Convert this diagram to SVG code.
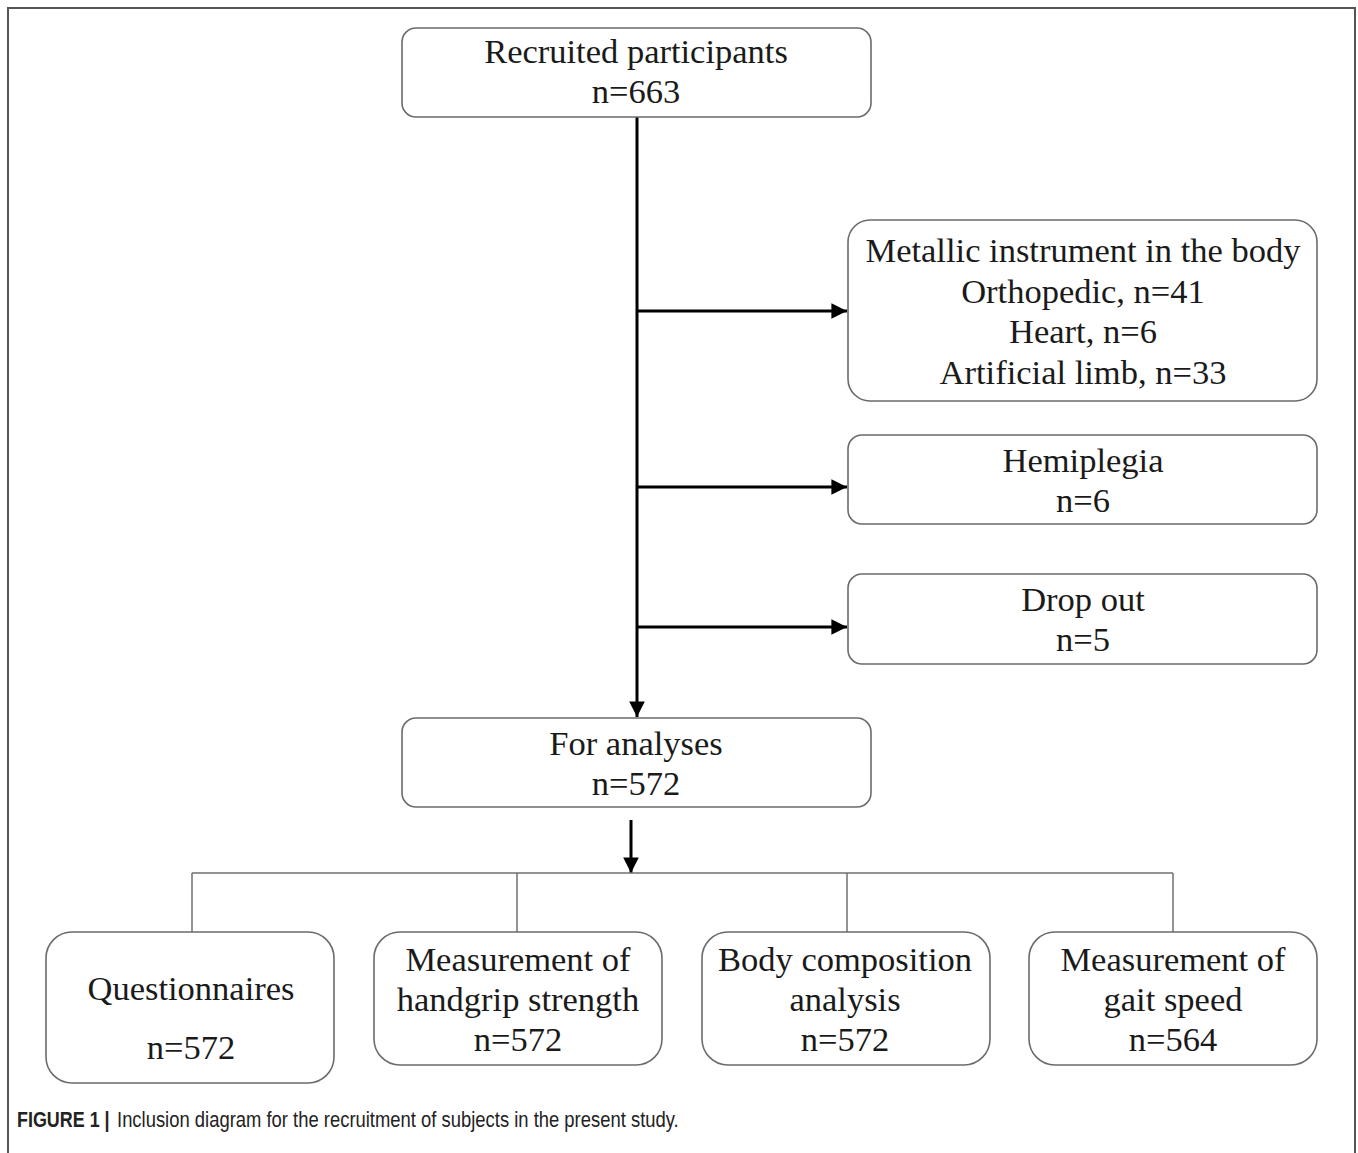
<svg xmlns="http://www.w3.org/2000/svg" width="1358" height="1153" viewBox="0 0 1358 1153">
<style>
.box{fill:#fff;stroke:#6b6b6b;stroke-width:1.6}
.t{font-family:"Liberation Serif","Times New Roman",serif;font-size:34.5px;fill:#1a1a1a;text-anchor:middle}
.thick{stroke:#000;stroke-width:3;fill:none}
.thin{stroke:#707070;stroke-width:1.5;fill:none}
.cap{font-family:"Liberation Sans",Arial,sans-serif;font-size:22px;fill:#222}
</style>
<defs>
<marker id="ah" viewBox="0 0 10 10" refX="10" refY="5" markerWidth="5.5" markerHeight="5.2" markerUnits="strokeWidth" orient="auto">
<path d="M0,0 L10,5 L0,10 z" fill="#000"/>
</marker>
</defs>
<rect width="1358" height="1153" fill="#fff"/>
<path d="M8,1153 L8,8 L1355,8 L1355,1153" fill="none" stroke="#555" stroke-width="2"/>
<g id="connectors">
<line class="thick" x1="637" y1="117" x2="637" y2="717" marker-end="url(#ah)"/>
<line class="thick" x1="637" y1="311" x2="847" y2="311" marker-end="url(#ah)"/>
<line class="thick" x1="637" y1="487" x2="847" y2="487" marker-end="url(#ah)"/>
<line class="thick" x1="637" y1="627" x2="847" y2="627" marker-end="url(#ah)"/>
<line class="thick" x1="631" y1="820" x2="631" y2="873" marker-end="url(#ah)"/>
<line class="thin" x1="192" y1="873" x2="1173" y2="873"/>
<line class="thin" x1="192" y1="873" x2="192" y2="932"/>
<line class="thin" x1="517" y1="873" x2="517" y2="932"/>
<line class="thin" x1="847" y1="873" x2="847" y2="932"/>
<line class="thin" x1="1173" y1="873" x2="1173" y2="932"/>
</g>
<g id="recruited">
<rect class="box" x="402" y="28" width="469" height="89" rx="14"/>
<text class="t" x="636" y="63">Recruited participants</text>
<text class="t" x="636" y="103">n=663</text>
</g>
<g id="metallic">
<rect class="box" x="848" y="220" width="469" height="181" rx="22"/>
<text class="t" x="1083" y="262">Metallic instrument in the body</text>
<text class="t" x="1083" y="303">Orthopedic, n=41</text>
<text class="t" x="1083" y="343">Heart, n=6</text>
<text class="t" x="1083" y="384">Artificial limb, n=33</text>
</g>
<g id="hemiplegia">
<rect class="box" x="848" y="435" width="469" height="89" rx="14"/>
<text class="t" x="1083" y="472">Hemiplegia</text>
<text class="t" x="1083" y="512">n=6</text>
</g>
<g id="dropout">
<rect class="box" x="848" y="574" width="469" height="90" rx="14"/>
<text class="t" x="1083" y="611">Drop out</text>
<text class="t" x="1083" y="651">n=5</text>
</g>
<g id="analyses">
<rect class="box" x="402" y="718" width="469" height="89" rx="14"/>
<text class="t" x="636" y="755">For analyses</text>
<text class="t" x="636" y="795">n=572</text>
</g>
<g id="questionnaires">
<rect class="box" x="46" y="932" width="288" height="151" rx="26"/>
<text class="t" x="191" y="1000">Questionnaires</text>
<text class="t" x="191" y="1059">n=572</text>
</g>
<g id="handgrip">
<rect class="box" x="374" y="932" width="288" height="133" rx="26"/>
<text class="t" x="518" y="971">Measurement of</text>
<text class="t" x="518" y="1011">handgrip strength</text>
<text class="t" x="518" y="1051">n=572</text>
</g>
<g id="bodycomp">
<rect class="box" x="702" y="932" width="288" height="133" rx="26"/>
<text class="t" x="845" y="971">Body composition</text>
<text class="t" x="845" y="1011">analysis</text>
<text class="t" x="845" y="1051">n=572</text>
</g>
<g id="gait">
<rect class="box" x="1029" y="932" width="288" height="133" rx="26"/>
<text class="t" x="1173" y="971">Measurement of</text>
<text class="t" x="1173" y="1011">gait speed</text>
<text class="t" x="1173" y="1051">n=564</text>
</g>
<g transform="scale(0.82,1)">
<text class="cap" x="20.7" y="1127" font-weight="bold" textLength="113" lengthAdjust="spacingAndGlyphs">FIGURE 1 |</text>
<text class="cap" x="142.7" y="1127" textLength="685" lengthAdjust="spacingAndGlyphs">Inclusion diagram for the recruitment of subjects in the present study.</text>
</g>
</svg>
